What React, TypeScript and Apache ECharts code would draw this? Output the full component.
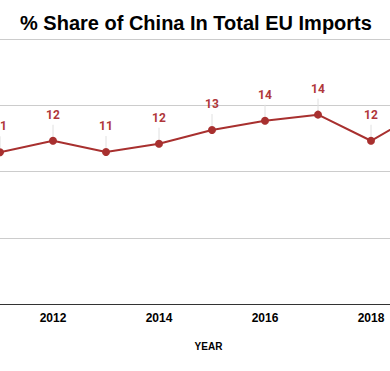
import React, { useEffect, useRef } from "react";
import * as echarts from "echarts";

const years = ["2011", "2012", "2013", "2014", "2015", "2016", "2017", "2018", "2019"];
const shares = [11.45, 12.32, 11.47, 12.1, 13.13, 13.83, 14.29, 12.32, 14.6];
const yTicks = { min: 0, max: 20, interval: 5 };

const LINE = "#a8302f";
const LABEL = "#b0373a";

export default function App() {
  const ref = useRef<HTMLDivElement>(null);
  useEffect(() => {
    if (!ref.current) return;
    const chart = echarts.init(ref.current, null, { renderer: "svg" });
    chart.setOption({
      animation: false,
      backgroundColor: "#ffffff",
      title: {
        text: "% Share of China In Total EU Imports",
        left: 15,
        top: 8,
        textStyle: { fontFamily: "Liberation Sans, Arial", fontWeight: "bold", fontSize: 20, color: "#000" },
      },
      grid: { left: 0, right: 0, top: 39, bottom: 67 },
      xAxis: {
        type: "category",
        data: years,
        boundaryGap: false,
        axisLine: { show: true, lineStyle: { color: "#333", width: 1 } },
        axisTick: { show: false },
        axisLabel: {
          interval: (index: number, value: string) => Number(value) % 2 === 0,
          margin: 8,
          fontFamily: "Liberation Sans, Arial",
          fontWeight: "bold",
          fontSize: 12,
          color: "#000",
        },
        name: "YEAR",
        nameLocation: "middle",
        nameGap: 37,
        nameTextStyle: {
          fontFamily: "Liberation Sans, Arial",
          fontWeight: "bold",
          fontSize: 10,
          color: "#000",
          padding: [0, 7, 0, 0],
        },
        splitLine: { show: false },
      },
      yAxis: {
        type: "value",
        min: yTicks.min,
        max: yTicks.max,
        interval: yTicks.interval,
        axisLabel: { show: false },
        axisLine: { show: false },
        axisTick: { show: false },
        splitLine: { lineStyle: { color: "#cccccc", width: 1 } },
      },
      series: [
        {
          type: "custom",
          z: 1,
          silent: true,
          data: shares.map((v, i) => [i, v]),
          renderItem: (params: any, api: any) => {
            const p = api.coord([api.value(0), api.value(1)]);
            return {
              type: "line",
              shape: { x1: p[0], y1: p[1], x2: p[0], y2: p[1] - 16 },
              style: { stroke: "#e0e0e0", lineWidth: 1 },
            };
          },
        },
        {
          type: "line",
          z: 3,
          data: shares,
          symbol: "circle",
          symbolSize: 8,
          lineStyle: { color: LINE, width: 2 },
          itemStyle: { color: LINE },
          label: {
            show: true,
            position: "top",
            distance: 16,
            formatter: (p: any) => String(Math.round(p.value)),
            fontFamily: "Roboto",
            fontWeight: "bold",
            fontSize: 12,
            color: LABEL,
          },
        },
      ],
    });
    return () => chart.dispose();
  }, []);
  return (
    <div style={{ position: "fixed", left: 0, top: 0, width: 390, height: 371, overflow: "hidden", background: "#fff" }}>
      <div ref={ref} style={{ width: 424, height: 371 }} />
    </div>
  );
}
